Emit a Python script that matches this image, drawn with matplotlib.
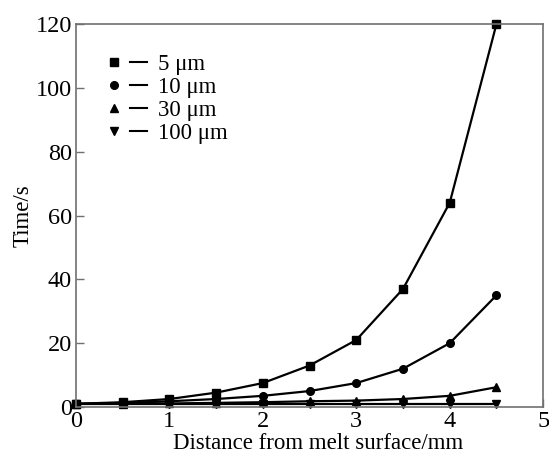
import matplotlib.pyplot as plt
from matplotlib.lines import Line2D
from matplotlib.legend_handler import HandlerTuple

plt.rcParams['font.family'] = ['Liberation Serif', 'DejaVu Serif']

# distance from melt surface (mm)
distance = [0, 0.5, 1, 1.5, 2, 2.5, 3, 3.5, 4, 4.5]

# time (s) for each particle size
time_5um = [1, 1.5, 2.5, 4.5, 7.5, 13, 21, 37, 64, 120]
time_10um = [1, 1.2, 1.8, 2.5, 3.5, 5, 7.5, 12, 20, 35]
time_30um = [1, 1, 1.1, 1.3, 1.5, 1.8, 2, 2.5, 3.5, 6.2]
time_100um = [1, 1, 1, 1, 1, 1, 1, 1, 1, 1]

labels = ['5 \u03bcm', '10 \u03bcm', '30 \u03bcm', '100 \u03bcm']
markers = ['s', 'o', '^', 'v']

fig = plt.figure(figsize=(5.49, 4.59), dpi=100)
ax = fig.add_axes([0.1384, 0.1133, 0.851, 0.8344])

series = [time_5um, time_10um, time_30um, time_100um]
handles = []
for values, mk in zip(series, markers):
    ax.plot(distance, values, color='black', lw=1.6, marker=mk, ms=5.5, clip_on=False)
    handles.append((Line2D([], [], color='black', marker=mk, ms=5.5, ls='none'),
                    Line2D([], [], color='black', lw=1.5)))

ax.set_xlim(0, 5)
ax.set_ylim(0, 120)
ax.set_xticks([0, 1, 2, 3, 4, 5])
ax.set_yticks([0, 20, 40, 60, 80, 100, 120])
ax.tick_params(direction='in', length=6, width=1, color='#707070', labelsize=17.5, pad=3)
for sp in ax.spines.values():
    sp.set_color('#707070')
    sp.set_linewidth(1.2)

ax.set_xlabel('Distance from melt surface/mm', fontsize=16.5, labelpad=0)
ax.xaxis.set_label_coords(0.518, -0.068)
ax.set_ylabel('Time/s', fontsize=16.5)
ax.yaxis.set_label_coords(-0.091, 0.5)

ax.legend(handles, labels, handler_map={tuple: HandlerTuple(ndivide=None, pad=0.3)},
          loc='upper left', bbox_to_anchor=(0.062, 0.922), frameon=False, fontsize=16.5,
          handlelength=1.85, handletextpad=0.45, labelspacing=0.08, borderaxespad=0,
          borderpad=0)

fig.savefig('out.png')
